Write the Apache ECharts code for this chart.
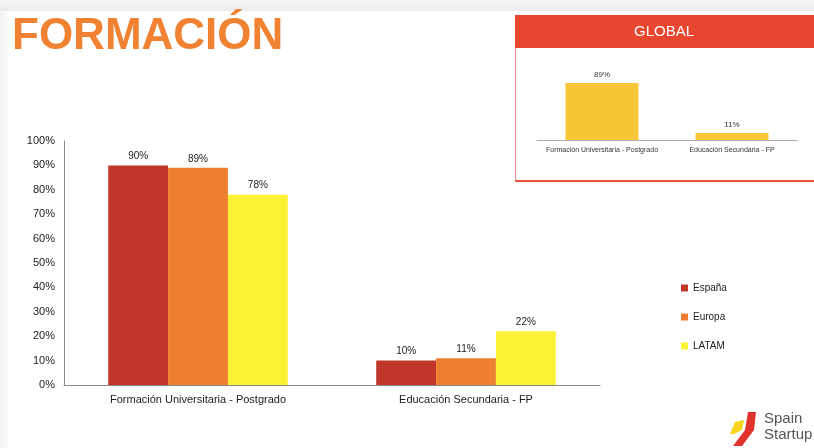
<!DOCTYPE html>
<html>
<head>
<meta charset="utf-8">
<script src="https://cdn.jsdelivr.net/npm/echarts@6/dist/echarts.min.js"></script>
<style>
  html, body { margin: 0; padding: 0; background: #fff; }
  #chart { width: 814px; height: 448px; }
</style>
</head>
<body>
<div id="chart"></div>
<script>
  // datos principales
  var categories = ['Formación Universitaria - Postgrado', 'Educación Secundaria - FP'];
  var espana = [90, 10];
  var europa = [89, 11];
  var latam = [78, 22];
  // recuadro global
  var globalValues = [89, 11];
  var yTicks = [0, 10, 20, 30, 40, 50, 60, 70, 80, 90, 100];

  var chart = echarts.init(document.getElementById('chart'));

  var barLabel = {
    show: true,
    position: 'top',
    distance: 4,
    color: '#222',
    fontSize: 10,
    fontFamily: 'Liberation Sans',
    formatter: '{c}%'
  };

  var option = {
    animation: false,
    backgroundColor: '#fff',
    textStyle: { fontFamily: 'Liberation Sans' },
    graphic: [
      // fondo de la diapositiva
      { type: 'rect', shape: { x: 0, y: 0, width: 814, height: 11 }, z: -10,
        style: { fill: new echarts.graphic.LinearGradient(0, 0, 0, 1, [{ offset: 0, color: '#f7f7f7' }, { offset: 1, color: '#ececec' }]) } },
      { type: 'rect', shape: { x: 0, y: 11, width: 8, height: 437 }, z: -10,
        style: { fill: new echarts.graphic.LinearGradient(0, 0, 1, 0, [{ offset: 0, color: '#f4f4f4' }, { offset: 1, color: '#fbfbfb' }]) } },
      // titulo
      { type: 'text', left: 12, top: 15, z: 10,
        style: { text: 'FORMACIÓN', fill: '#F08231', font: 'bold 44px "Liberation Sans"' } },
      // recuadro GLOBAL
      { type: 'rect', shape: { x: 515.5, y: 15.5, width: 310, height: 165 }, z: -5,
        style: { fill: '#fff', stroke: '#F08A84', lineWidth: 1 } },
      { type: 'rect', shape: { x: 515, y: 15, width: 300, height: 33 }, z: -4,
        style: { fill: '#E8462F' } },
      { type: 'rect', shape: { x: 515, y: 180, width: 300, height: 2 }, z: -4,
        style: { fill: '#EE5040' } },
      { type: 'text', x: 664, y: 32, z: 10,
        style: { text: 'GLOBAL', fill: '#fff', font: '15px "Liberation Sans"', textAlign: 'center', textVerticalAlign: 'middle' } },
      // logo
      { type: 'polygon', z: 5, shape: { points: [[748, 412], [756, 412], [754, 430], [742, 446], [733, 446], [745, 430]] },
        style: { fill: '#E0332B' } },
      { type: 'polygon', z: 4, shape: { points: [[735, 422], [744, 420], [742, 430], [734, 434], [730, 434]] },
        style: { fill: '#F7D41E' } },
      { type: 'text', left: 764, top: 411, z: 10,
        style: { text: 'Spain', fill: '#555', font: '15px "Liberation Sans"' } },
      { type: 'text', left: 764, top: 427, z: 10,
        style: { text: 'Startup', fill: '#555', font: '15px "Liberation Sans"' } }
    ],
    legend: {
      orient: 'vertical',
      left: 676,
      top: 278,
      itemWidth: 7,
      itemHeight: 7,
      itemGap: 19,
      icon: 'rect',
      data: ['España', 'Europa', 'LATAM'],
      textStyle: { fontSize: 10, color: '#222', fontFamily: 'Liberation Sans' }
    },
    grid: [
      { left: 64, right: 214, top: 141, bottom: 63 },
      { left: 537, right: 17, top: 76, bottom: 308 }
    ],
    xAxis: [
      {
        type: 'category', gridIndex: 0, data: categories,
        axisLine: { lineStyle: { color: '#888', width: 1 } },
        axisTick: { show: false },
        axisLabel: { color: '#222', fontSize: 11, margin: 9, fontFamily: 'Liberation Sans' }
      },
      {
        type: 'category', gridIndex: 1, data: categories,
        axisLine: { lineStyle: { color: '#aaa', width: 1 } },
        axisTick: { show: false },
        axisLabel: { color: '#333', fontSize: 7, margin: 7, interval: 0, hideOverlap: false, fontFamily: 'Liberation Sans' }
      }
    ],
    yAxis: [
      {
        type: 'value', gridIndex: 0, min: yTicks[0], max: yTicks[yTicks.length - 1], interval: 10,
        axisLine: { show: true, lineStyle: { color: '#888', width: 1 } },
        axisTick: { show: false },
        splitLine: { show: false },
        axisLabel: { formatter: '{value}%', color: '#222', fontSize: 11, margin: 9, fontFamily: 'Liberation Sans' }
      },
      {
        type: 'value', gridIndex: 1, min: 0, max: 100, show: false, splitLine: { show: false }
      }
    ],
    series: [
      { name: 'España', type: 'bar', xAxisIndex: 0, yAxisIndex: 0, data: espana,
        barGap: '0%', barCategoryGap: '33%', itemStyle: { color: '#C0372A' }, label: barLabel },
      { name: 'Europa', type: 'bar', xAxisIndex: 0, yAxisIndex: 0, data: europa,
        barGap: '0%', barCategoryGap: '33%', itemStyle: { color: '#EE7F30' }, label: barLabel },
      { name: 'LATAM', type: 'bar', xAxisIndex: 0, yAxisIndex: 0, data: latam,
        barGap: '0%', barCategoryGap: '33%', itemStyle: { color: '#FCF235' }, label: barLabel },
      { name: 'Global', type: 'bar', xAxisIndex: 1, yAxisIndex: 1, data: globalValues,
        barWidth: 73, itemStyle: { color: '#F9C637' },
        label: { show: true, position: 'top', distance: 4, color: '#333', fontSize: 8, formatter: '{c}%' } }
    ]
  };

  chart.setOption(option);
</script>
</body>
</html>
